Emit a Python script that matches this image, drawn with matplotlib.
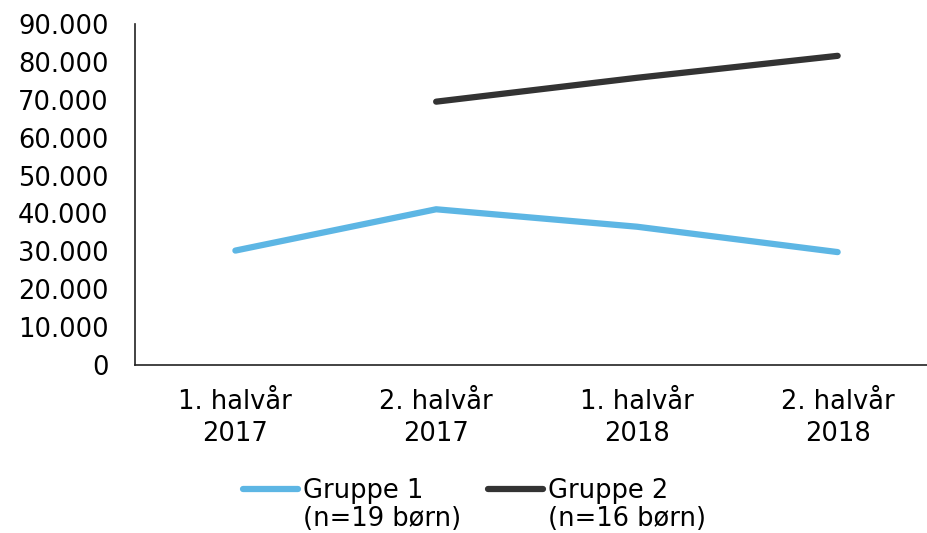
import numpy as np
import matplotlib
matplotlib.use('Agg')
import matplotlib.pyplot as plt
from matplotlib.ticker import FuncFormatter

categories = ['1. halvår\n2017', '2. halvår\n2017', '1. halvår\n2018', '2. halvår\n2018']
gruppe1 = [30200, 41100, 36500, 29800]
gruppe2 = [np.nan, 69500, 75800, 81600]
labels = ['Gruppe 1', 'Gruppe 2']
sublabels = ['(n=19 børn)', '(n=16 børn)']

plt.rcParams['font.family'] = ['DejaVu Sans']
fs = 18.5

fig = plt.figure(figsize=(9.28, 5.33), dpi=100)
ax = fig.add_axes([135/928, 1-365/533, 1-135/928, (365-24)/533])

x = np.arange(len(categories))
ax.plot(x, gruppe1, color='#5DB6E4', lw=4.5, solid_capstyle='round', label=labels[0])
ax.plot(x, gruppe2, color='#333333', lw=4.5, solid_capstyle='round', label=labels[1])

ax.set_xlim(-0.5, 3.45)
ax.set_ylim(0, 90000)
ax.set_yticks(np.arange(0, 90001, 10000))
ax.yaxis.set_major_formatter(FuncFormatter(lambda v, p: f'{int(v):,}'.replace(',', '.')))
ax.set_xticks(x)
ax.set_xticklabels(categories, linespacing=1.3)
ax.tick_params(axis='y', length=0, pad=19, labelsize=fs)
ax.tick_params(axis='x', length=0, pad=17, labelsize=fs)

for s in ['top', 'right']:
    ax.spines[s].set_visible(False)
for s in ['left', 'bottom']:
    ax.spines[s].set_color('#222222')
    ax.spines[s].set_linewidth(1.2)

leg = fig.legend(loc='center left', bbox_to_anchor=(243/928, 1-491/533), ncol=2, frameon=False,
                 fontsize=fs, handlelength=2.15, handletextpad=0.2, columnspacing=2.5,
                 borderpad=0, borderaxespad=0)

# second line of each legend label
fig.canvas.draw()
r = fig.canvas.get_renderer()
for t, sub in zip(leg.get_texts(), sublabels):
    bb = t.get_window_extent(r)
    fig.text(bb.x0 / fig.bbox.width, 1-519/533, sub, fontsize=fs, va='center', ha='left')

fig.savefig('out.png', dpi=100)
